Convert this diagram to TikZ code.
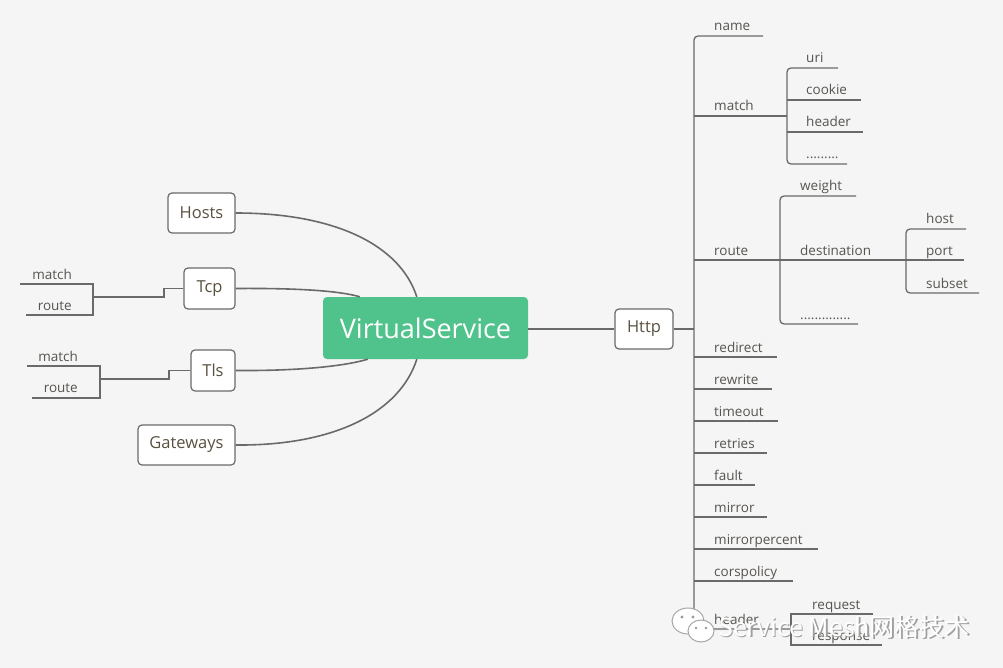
\documentclass[tikz,border=0pt]{standalone}
\usepackage{fontspec}
\setmainfont{Open Sans}
\newfontfamily\cjk{Noto Sans CJK SC}
\usetikzlibrary{calc}
\definecolor{bg}{HTML}{F5F5F5}
\definecolor{linec}{HTML}{6A6A6A}
\definecolor{txt}{HTML}{575550}
\definecolor{boxtxt}{HTML}{5A5040}
\definecolor{vsgreen}{HTML}{50C28C}
\tikzset{
  leaf/.style={inner sep=0pt, text=txt, font=\fontsize{13.5}{15}\selectfont, anchor=base west},
  lleaf/.style={inner sep=0pt, text=txt, font=\fontsize{13.5}{15}\selectfont, anchor=base east},
  topic/.style={draw=linec, line width=1.2pt, fill=white, rounded corners=4pt, text=boxtxt,
    font=\fontsize{16.5}{18}\selectfont, inner sep=0pt, minimum height=40pt},
  central/.style={fill=vsgreen, rounded corners=4pt, text=white, font=\fontsize{27}{30}\selectfont,
    inner sep=0pt, minimum width=205pt, minimum height=62pt},
  conn/.style={draw=linec, line width=1.6pt},
  branch/.style={draw=linec, line width=1.3pt},
  rbranch/.style={draw=linec, line width=1.3pt, rounded corners=4pt},
}
\begin{document}
\begin{tikzpicture}[x=1pt,y=-1pt]
\fill[bg] (0,0) rectangle (1003,668);
\useasboundingbox (0,0) rectangle (1003,668);

% central and first-level nodes
\node[central] (vs) at (425.5,328) {VirtualService};
\node[topic, minimum width=67pt] (hosts) at (201.5,213) {Hosts};
\node[topic, minimum width=51pt, minimum height=41pt] (tcp) at (209.5,288.5) {Tcp};
\node[topic, minimum width=44pt, minimum height=41pt] (tls) at (213,370.5) {Tls};
\node[topic, minimum width=97pt] (gw) at (186.5,445) {Gateways};
\node[topic, minimum width=58pt] (http) at (644,329) {Http};

% curved connectors
\draw[conn] (hosts.east) .. controls (335,213) and (400,245) .. ([xshift=94pt]vs.north west);
\draw[conn] (tcp.east) .. controls (300,288) and (340,291) .. ([xshift=37pt]vs.north west);
\draw[conn] (tls.east) .. controls (300,371) and (345,366) .. ([xshift=45pt]vs.south west);
\draw[conn] (gw.east) .. controls (335,446) and (400,412) .. ([xshift=94pt]vs.south west);
\draw[conn] (vs.east |- http.west) -- (http.west);

% Tcp children
\node[lleaf] (tcpmatch) at (72,279) {match};
\node[lleaf] (tcproute) at (72,310) {route};
\coordinate (tcpb) at (93,297);
\draw[branch] (tcp.west) -- (164,288.5) -- (164,297) -- (tcpb);
\draw[branch] (20,284) -- (93,284) -- (93,315) -- (26,315);

% Tls children
\node[lleaf] (tlsmatch) at (78,361) {match};
\node[lleaf] (tlsroute) at (78,392) {route};
\coordinate (tlsb) at (100,379);
\draw[branch] (tls.west) -- (169,370.5) -- (169,379) -- (tlsb);
\draw[branch] (27,366) -- (100,366) -- (100,398) -- (32,398);

% Http trunk
\coordinate (trunk) at (694,329);
\draw[branch] (http.east) -- (trunk);
\draw[rbranch] (763,36) -- (694,36) -- (694,629) -- (791,629);

% Http leaves
\node[leaf] (name) at (714,31) {name};
\node[leaf] (match) at (714,111) {match};
\node[leaf] (route) at (714,255) {route};
\node[leaf] (redirect) at (714,352) {redirect};
\node[leaf] (rewrite) at (714,384) {rewrite};
\node[leaf] (timeout) at (714,416) {timeout};
\node[leaf] (retries) at (714,448) {retries};
\node[leaf] (fault) at (714,480) {fault};
\node[leaf] (mirror) at (714,512) {mirror};
\node[leaf] (mirrorp) at (714,544) {mirrorpercent};
\node[leaf] (cors) at (714,576) {corspolicy};
\node[leaf] (hheader) at (714,624) {header};

\draw[branch] (694,116) -- (787,116);
\draw[branch] (694,260) -- (780,260);
\draw[branch] (694,357) -- (777,357);
\draw[branch] (694,389) -- (772,389);
\draw[branch] (694,421) -- (778,421);
\draw[branch] (694,453) -- (767,453);
\draw[branch] (694,485) -- (755,485);
\draw[branch] (694,517) -- (767,517);
\draw[branch] (694,549) -- (818,549);
\draw[branch] (694,581) -- (793,581);

% match children
\node[leaf] (uri) at (806,63) {uri};
\node[leaf] (cookie) at (806,95) {cookie};
\node[leaf] (mheader) at (806,127) {header};
\node[leaf] (mdots) at (806,159) {.........};
\draw[rbranch] (838,68) -- (787,68) -- (787,164) -- (847,164);
\draw[branch] (787,100) -- (861,100);
\draw[branch] (787,132) -- (863,132);

% route children
\node[leaf] (weight) at (800,191) {weight};
\node[leaf] (dest) at (800,255) {destination};
\node[leaf] (rdots) at (800,319) {..............};
\draw[rbranch] (856,196) -- (780,196) -- (780,324) -- (858,324);
\draw[branch] (780,260) -- (906,260);

% destination children
\node[leaf] (host) at (926,224) {host};
\node[leaf] (port) at (926,255) {port};
\node[leaf] (subset) at (926,288) {subset};
\draw[rbranch] (966,229) -- (906,229) -- (906,293) -- (979,293);
\draw[branch] (906,260) -- (964,260);

% header children
\node[leaf] (request) at (812,609) {request};
\node[leaf] (response) at (812,640) {response};
\draw[branch] (873,614) -- (791,614) -- (791,645) -- (882,645);

% watermark
\begin{scope}
\fill[white, draw=gray!70, line width=1pt] (688,621) ellipse [x radius=16pt, y radius=13pt];
\fill[white, draw=gray!70, line width=1pt] (701,631) ellipse [x radius=13pt, y radius=11pt];
\fill[gray!80] (682,617) circle (1.6pt) (693,617) circle (1.6pt);
\fill[gray!80] (696,628) circle (1.4pt) (706,628) circle (1.4pt);
\node[inner sep=0pt, anchor=base west, text=gray!75, font=\cjk\fontsize{25}{28}\selectfont] at (719.5,637.5) {Service Mesh网格技术};
\node[inner sep=0pt, anchor=base west, text=white, font=\cjk\fontsize{25}{28}\selectfont] (wm) at (718,636) {Service Mesh网格技术};
\end{scope}
\end{tikzpicture}
\end{document}
